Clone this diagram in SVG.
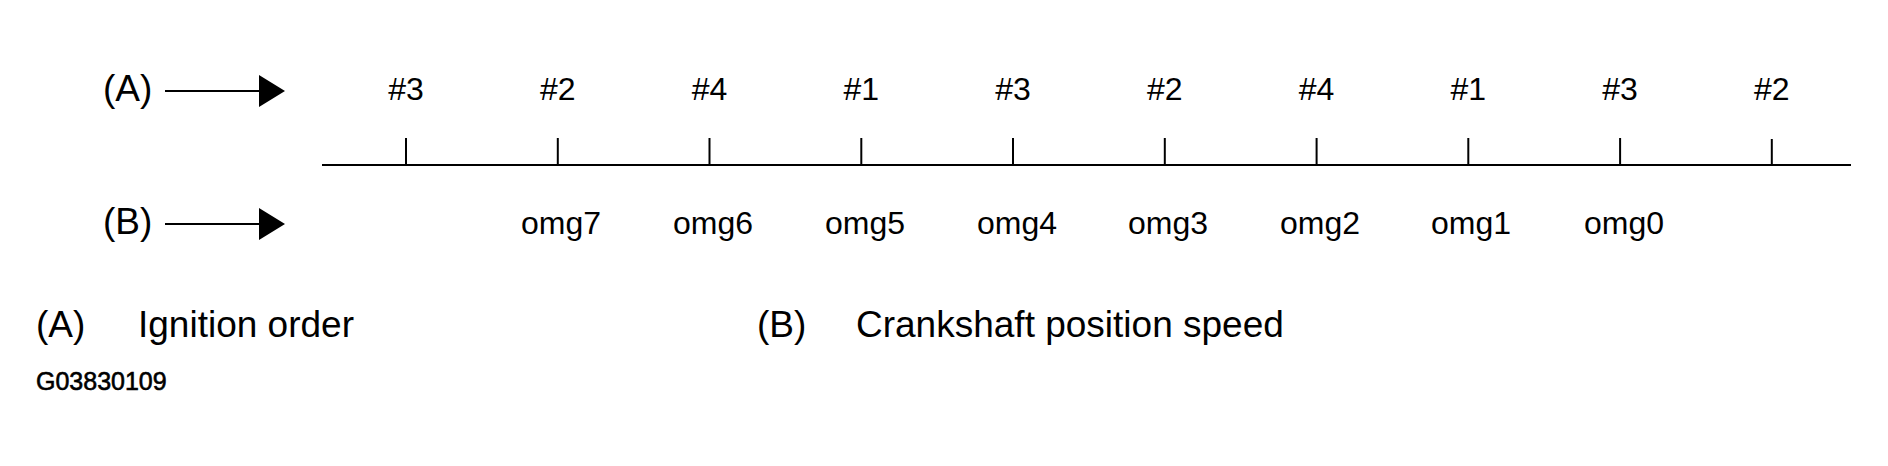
<svg xmlns="http://www.w3.org/2000/svg" width="1888" height="466" viewBox="0 0 1888 466">
<style>
text{font-family:"Liberation Sans",Arial,Helvetica,sans-serif;fill:#000}
.side{font-size:37px}
.cyl{font-size:32px;text-anchor:middle}
.omg{font-size:32px;text-anchor:middle}
.leg{font-size:37px}
.code{font-size:25px;stroke:#000;stroke-width:0.6}
.ln{stroke:#000;stroke-width:2;fill:none}
</style>
<defs>
<marker id="ah" markerUnits="userSpaceOnUse" markerWidth="28" markerHeight="34" refX="0" refY="16" orient="auto">
<path d="M0,0 L26,16 L0,32 Z" fill="#000"/>
</marker>
</defs>
<rect width="1888" height="466" fill="#fff"/>
<g id="connectors">
<line class="ln" x1="165" y1="91" x2="259" y2="91" marker-end="url(#ah)"/>
<line class="ln" x1="165" y1="224" x2="259" y2="224" marker-end="url(#ah)"/>
</g>
<g id="axis">
<line class="ln" x1="322" y1="165" x2="1851" y2="165"/>
<line class="ln" x1="406" y1="138" x2="406" y2="165"/>
<line class="ln" x1="557.8" y1="138" x2="557.8" y2="165"/>
<line class="ln" x1="709.5" y1="138" x2="709.5" y2="165"/>
<line class="ln" x1="861.3" y1="138" x2="861.3" y2="165"/>
<line class="ln" x1="1013" y1="138" x2="1013" y2="165"/>
<line class="ln" x1="1164.8" y1="138" x2="1164.8" y2="165"/>
<line class="ln" x1="1316.6" y1="138" x2="1316.6" y2="165"/>
<line class="ln" x1="1468.3" y1="138" x2="1468.3" y2="165"/>
<line class="ln" x1="1620.1" y1="138" x2="1620.1" y2="165"/>
<line class="ln" x1="1771.8" y1="139" x2="1771.8" y2="165"/>
</g>
<g id="label-A"><text class="side" x="103" y="101">(A)</text></g>
<g id="label-B"><text class="side" x="103" y="234">(B)</text></g>
<g id="ignition">
<text class="cyl" x="406" y="100">#3</text>
<text class="cyl" x="557.8" y="100">#2</text>
<text class="cyl" x="709.5" y="100">#4</text>
<text class="cyl" x="861.3" y="100">#1</text>
<text class="cyl" x="1013" y="100">#3</text>
<text class="cyl" x="1164.8" y="100">#2</text>
<text class="cyl" x="1316.6" y="100">#4</text>
<text class="cyl" x="1468.3" y="100">#1</text>
<text class="cyl" x="1620.1" y="100">#3</text>
<text class="cyl" x="1771.8" y="100">#2</text>
</g>
<g id="speed">
<text class="omg" x="561" y="234">omg7</text>
<text class="omg" x="713" y="234">omg6</text>
<text class="omg" x="865" y="234">omg5</text>
<text class="omg" x="1017" y="234">omg4</text>
<text class="omg" x="1168" y="234">omg3</text>
<text class="omg" x="1320" y="234">omg2</text>
<text class="omg" x="1471" y="234">omg1</text>
<text class="omg" x="1624" y="234">omg0</text>
</g>
<g id="legend">
<text class="leg" x="36" y="337">(A)</text>
<text class="leg" x="138" y="337">Ignition order</text>
<text class="leg" x="757" y="337">(B)</text>
<text class="leg" x="856" y="337">Crankshaft position speed</text>
<text class="code" x="36" y="390">G03830109</text>
</g>
</svg>
